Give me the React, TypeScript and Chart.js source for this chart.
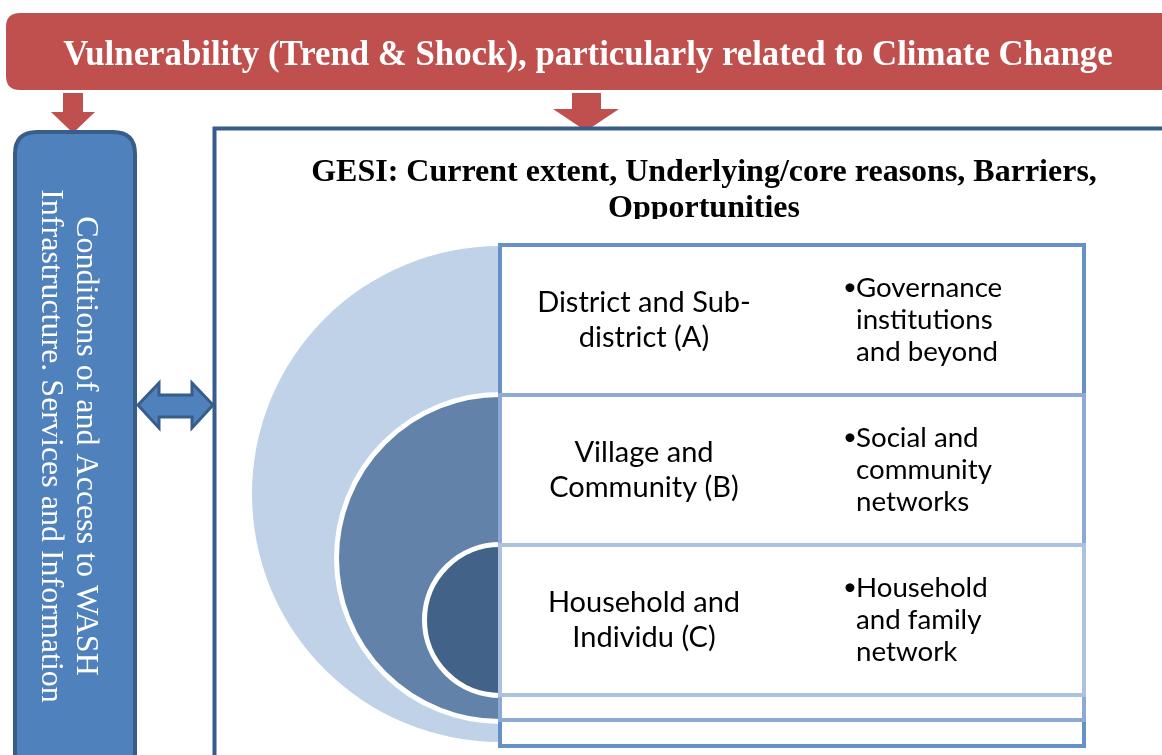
import React, { useEffect, useRef } from 'react';
import { Chart, registerables } from 'chart.js';

Chart.register(...registerables);

const W = 1162;
const H = 755;

// ---- content ----
const bannerText = 'Vulnerability (Trend & Shock), particularly related to Climate Change';
const sideLines = ['Conditions of and Access to WASH', 'Infrastructure. Services and Information'];
const titleLines = ['GESI: Current extent, Underlying/core reasons, Barriers,', 'Opportunities'];
const levelNames = [
  ['District and Sub-', 'district (A)'],
  ['Village and', 'Community (B)'],
  ['Household and', 'Individu (C)'],
];
const levelNetworks = [
  ['Governance', 'institutions', 'and beyond'],
  ['Social and', 'community', 'networks'],
  ['Household', 'and family', 'network'],
];

// ---- layout (diagram coordinate space, mapped through the chart's scales) ----
const circleCenterX = 500;
const circleCenterY = [494, 558, 620];
const circleRadius = [248, 163.5, 75.5];
const circleFill = ['#C0D2E8', '#6282AA', '#436288'];
const circleBorder = [0, 5, 5];
const boxLeft = 500;
const boxRight = 1084;
const boxTop = [245, 395, 545];
const boxBottom = [746, 720, 695];
const boxBorder = ['#6690C7', '#8DAAD4', '#AAC1DF'];

const RED = '#C0504D';
const BLUE = '#4F81BD';
const DARK_BLUE = '#385D8A';
const SERIF = '"Liberation Serif", "Times New Roman", serif';
const SANS = 'Lato, "Noto Sans", sans-serif';

function roundRectPath(ctx: CanvasRenderingContext2D, x: number, y: number, w: number, h: number, r: number) {
  ctx.beginPath();
  ctx.moveTo(x + r, y);
  ctx.lineTo(x + w - r, y);
  ctx.quadraticCurveTo(x + w, y, x + w, y + r);
  ctx.lineTo(x + w, y + h - r);
  ctx.quadraticCurveTo(x + w, y + h, x + w - r, y + h);
  ctx.lineTo(x + r, y + h);
  ctx.quadraticCurveTo(x, y + h, x, y + h - r);
  ctx.lineTo(x, y + r);
  ctx.quadraticCurveTo(x, y, x + r, y);
  ctx.closePath();
}

function polyPath(ctx: CanvasRenderingContext2D, pts: number[][]) {
  ctx.beginPath();
  pts.forEach((p, i) => (i === 0 ? ctx.moveTo(p[0], p[1]) : ctx.lineTo(p[0], p[1])));
  ctx.closePath();
}

const diagramPlugin = {
  id: 'diagram',
  beforeDatasetsDraw(chart: any) {
    const ctx: CanvasRenderingContext2D = chart.ctx;
    const X = (v: number) => chart.scales.x.getPixelForValue(v);
    const Y = (v: number) => chart.scales.y.getPixelForValue(v);
    ctx.save();

    // background
    ctx.fillStyle = '#ffffff';
    ctx.fillRect(0, 0, chart.width, chart.height);

    // red banner
    roundRectPath(ctx, X(6), Y(13), X(1185) - X(6), Y(90) - Y(13), 14);
    ctx.fillStyle = RED;
    ctx.fill();
    ctx.fillStyle = '#ffffff';
    ctx.font = `bold 34.8px ${SERIF}`;
    ctx.textAlign = 'center';
    ctx.textBaseline = 'alphabetic';
    ctx.fillText(bannerText, X(588), Y(65));

    // red down arrows
    ctx.fillStyle = RED;
    polyPath(ctx, [
      [X(63), Y(93)], [X(83), Y(93)], [X(83), Y(112)], [X(95), Y(112)],
      [X(73), Y(133)], [X(51), Y(112)], [X(63), Y(112)],
    ]);
    ctx.fill();
    polyPath(ctx, [
      [X(572), Y(93)], [X(601), Y(93)], [X(601), Y(109)], [X(619), Y(109)],
      [X(586), Y(131)], [X(553), Y(109)], [X(572), Y(109)],
    ]);
    ctx.fill();

    // big frame
    ctx.fillStyle = '#ffffff';
    ctx.strokeStyle = DARK_BLUE;
    ctx.lineWidth = 4;
    ctx.fillRect(X(214.5), Y(128.5), X(1200) - X(214.5), Y(800) - Y(128.5));
    ctx.strokeRect(X(214.5), Y(128.5), X(1200) - X(214.5), Y(800) - Y(128.5));

    // left blue box
    roundRectPath(ctx, X(15), Y(132), X(135) - X(15), Y(800) - Y(132), 22);
    ctx.fillStyle = BLUE;
    ctx.fill();
    ctx.strokeStyle = DARK_BLUE;
    ctx.lineWidth = 4;
    ctx.stroke();

    // vertical text
    ctx.fillStyle = '#ffffff';
    ctx.font = `32px ${SERIF}`;
    ctx.textAlign = 'center';
    ctx.textBaseline = 'alphabetic';
    const lineX = [77, 42];
    sideLines.forEach((t, i) => {
      ctx.save();
      ctx.translate(X(lineX[i]), Y(446));
      ctx.rotate(Math.PI / 2);
      ctx.fillText(t, 0, 0);
      ctx.restore();
    });

    // double arrow
    polyPath(ctx, [
      [X(138), Y(405)], [X(159), Y(383)], [X(159), Y(395)], [X(192), Y(395)], [X(192), Y(383)],
      [X(213), Y(405)], [X(192), Y(428)], [X(192), Y(417)], [X(159), Y(417)], [X(159), Y(428)],
    ]);
    ctx.fillStyle = BLUE;
    ctx.fill();
    ctx.strokeStyle = DARK_BLUE;
    ctx.lineWidth = 3;
    ctx.lineJoin = 'miter';
    ctx.stroke();

    // GESI title (clipped at the bottom like the original text box)
    ctx.save();
    ctx.beginPath();
    ctx.rect(X(217), Y(131), X(1162) - X(217), Y(219) - Y(131));
    ctx.clip();
    ctx.fillStyle = '#000000';
    ctx.font = `bold 32px ${SERIF}`;
    ctx.textAlign = 'center';
    ctx.fillText(titleLines[0], X(704), Y(181));
    ctx.fillText(titleLines[1], X(704), Y(217));
    ctx.restore();

    ctx.restore();
  },
  afterDatasetsDraw(chart: any) {
    const ctx: CanvasRenderingContext2D = chart.ctx;
    const X = (v: number) => chart.scales.x.getPixelForValue(v);
    const Y = (v: number) => chart.scales.y.getPixelForValue(v);
    ctx.save();
    levelNames.forEach((names, i) => {
      const top = boxTop[i];
      ctx.fillStyle = '#ffffff';
      ctx.fillRect(X(boxLeft), Y(top), X(boxRight) - X(boxLeft), Y(boxBottom[i]) - Y(top));
      ctx.strokeStyle = boxBorder[i];
      ctx.lineWidth = 4;
      ctx.strokeRect(X(boxLeft), Y(top), X(boxRight) - X(boxLeft), Y(boxBottom[i]) - Y(top));
    });
    // text (drawn after all boxes)
    ctx.fillStyle = '#000000';
    ctx.textBaseline = 'alphabetic';
    levelNames.forEach((names, i) => {
      const top = boxTop[i];
      ctx.font = `29px ${SANS}`;
      ctx.textAlign = 'center';
      names.forEach((t, j) => ctx.fillText(t, X(644), Y(top + 67 + j * 35)));
      ctx.font = `27.7px ${SANS}`;
      ctx.textAlign = 'left';
      levelNetworks[i].forEach((t, j) => {
        if (j === 0) {
          ctx.font = `24px ${SANS}`;
          ctx.fillText('\u2022', X(843), Y(top + 50));
          ctx.font = `27.7px ${SANS}`;
        }
        ctx.fillText(t, X(856), Y(top + 52 + j * 32));
      });
    });
    ctx.restore();
  },
};

export default function App() {
  const ref = useRef<HTMLCanvasElement | null>(null);
  useEffect(() => {
    document.body.style.margin = '0';
    const canvas = ref.current!;
    const chart = new Chart(canvas, {
      type: 'bubble',
      data: {
        datasets: circleRadius.map((r, i) => ({
          label: `level ${i}`,
          data: [{ x: circleCenterX, y: circleCenterY[i], r }],
          backgroundColor: circleFill[i],
          borderColor: '#ffffff',
          borderWidth: circleBorder[i],
          order: circleRadius.length - i,
        })),
      },
      options: {
        animation: false,
        responsive: false,
        events: [],
        layout: { padding: 0, autoPadding: false },
        plugins: { legend: { display: false }, tooltip: { enabled: false } },
        scales: {
          x: { type: 'linear', min: 0, max: W, display: false },
          y: { type: 'linear', min: 0, max: H, reverse: true, display: false },
        },
      },
      plugins: [diagramPlugin],
    });
    return () => chart.destroy();
  }, []);
  return (
    <div style={{ position: 'fixed', left: 0, top: 0, width: W, height: H }}>
      <canvas ref={ref} width={W} height={H} style={{ width: W, height: H, display: 'block' }} />
    </div>
  );
}
